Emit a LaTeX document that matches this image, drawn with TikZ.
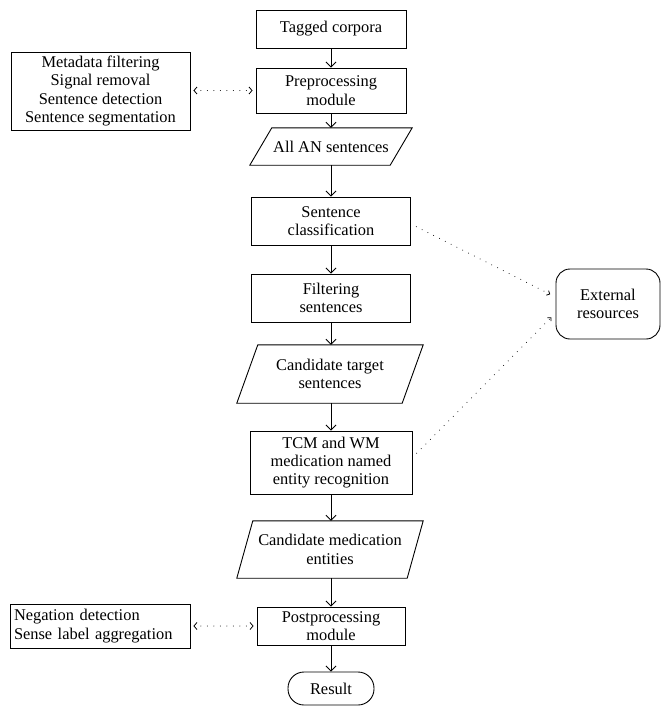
\documentclass[tikz,border=0pt]{standalone}
\usepackage{fontspec}
\setmainfont{Liberation Serif}
\usetikzlibrary{arrows.meta,calc}
\tikzset{
  base/.style={font=\fontsize{16.4}{18.4}\selectfont, align=center, inner sep=2pt},
  box/.style={base, draw, line width=0.9pt, minimum width=#1},
  box/.default=150pt,
  ptext/.style={base, inner sep=0pt},
  pline/.style={line width=0.9pt, line join=miter},
  flow/.style={line width=0.9pt, -{Straight Barb[length=5pt,width=10pt,line width=0.9pt]}},
  dotlink/.style={line width=1pt, line cap=round, dash pattern=on 0pt off 6.5pt,
    {Straight Barb[length=3pt,width=7pt,line width=0.8pt]}-{Straight Barb[length=3pt,width=7pt,line width=0.8pt]}, shorten <=3pt, shorten >=3pt},
  dotext/.style={line width=1pt, line cap=round, dash pattern=on 0pt off 6.5pt,
    -{Straight Barb[length=2.5pt,width=5pt,line width=0.8pt]}, shorten <=6pt, shorten >=6pt}
}
\newcommand\paradraw[2]{%
  \draw[pline] ($(#1.south west)+(-#2/2,0)$) -- ($(#1.north west)+(#2/2,0)$) --
    ($(#1.north east)+(#2/2,0)$) -- ($(#1.south east)+(-#2/2,0)$) -- cycle;}
\begin{document}
\begin{tikzpicture}[x=1pt,y=-1pt]
\path[use as bounding box, fill=white] (0,0) rectangle (671,716);

\node[box=150pt, minimum height=38pt] (tagged) at (331,29) {Tagged corpora};
\node[box=150pt, minimum height=45pt] (pre) at (331,90.5) {Preprocessing\\module};
\node[ptext, minimum width=140pt, minimum height=37pt] (allan) at (331,146.5) {All AN sentences};
\paradraw{allan}{22}
\node[box=159pt, minimum height=48pt] (sentclass) at (331,221) {Sentence\\classification};
\node[box=159pt, minimum height=48pt] (filter) at (331,298) {Filtering\\sentences};
\node[ptext, minimum width=165pt, minimum height=58pt] (candtarget) at (330,374) {Candidate target\\sentences};
\paradraw{candtarget}{21}
\node[box=162pt, minimum height=63pt] (tcm) at (331,462.5) {TCM and WM\\medication named\\entity recognition};
\node[ptext, minimum width=170pt, minimum height=57pt] (candmed) at (330,549.5) {Candidate medication\\entities};
\paradraw{candmed}{16}
\node[box=148pt, minimum height=38pt] (post) at (331,626) {Postprocessing\\module};
\node[box=86pt, minimum height=33pt, rounded corners=16pt] (result) at (331,688.5) {Result};

\node[box=179pt, minimum height=78pt] (left1) at (100.5,91) {Metadata filtering\\Signal removal\\Sentence detection\\Sentence segmentation};
\node[box=180pt, minimum height=44pt, align=left, text width=172pt] (left2) at (100,626) {Negation detection\\Sense label aggregation};
\node[box=104pt, minimum height=70pt, rounded corners=14pt] (ext) at (608,304) {External\\resources};

\draw[flow] (tagged) -- (pre);
\draw[flow] (pre) -- (pre |- allan.north);
\draw[flow] (pre |- allan.south) -- (sentclass);
\draw[flow] (sentclass) -- (filter);
\draw[flow] (filter) -- (filter |- candtarget.north);
\draw[flow] (filter |- candtarget.south) -- (tcm);
\draw[flow] (tcm) -- (tcm |- candmed.north);
\draw[flow] (tcm |- candmed.south) -- (post);
\draw[flow] (post) -- (result);

\draw[dotlink] (left1.east |- pre) -- (pre.west);
\draw[dotlink] (left2.east) -- (post.west);
\draw[dotext] ([yshift=-3pt]sentclass.east) -- ([yshift=7pt]ext.west);
\draw[dotext] ([yshift=5pt]tcm.east) -- ([yshift=-9pt]ext.west);
\end{tikzpicture}
\end{document}
